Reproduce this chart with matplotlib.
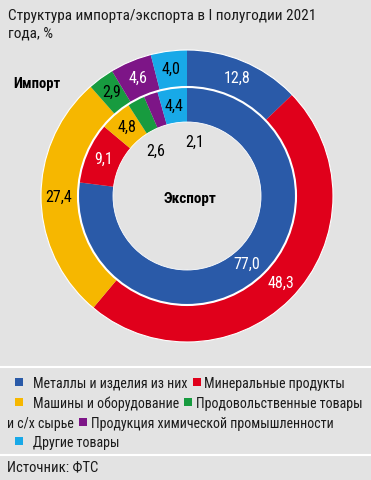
import numpy as np
import matplotlib
matplotlib.use("Agg")
import matplotlib.pyplot as plt
from matplotlib.patches import Circle, Rectangle

plt.rcParams['font.family'] = ['Roboto Condensed', 'DejaVu Sans']
plt.rcParams['font.stretch'] = 'condensed'

# данные
categories = ["Металлы и изделия из них", "Минеральные продукты",
              "Машины и оборудование", "Продовольственные товары и с/х сырье",
              "Продукция химической промышленности", "Другие товары"]
import_share = [12.8, 48.3, 27.4, 2.9, 4.6, 4.0]   # внешнее кольцо
export_share = [77.0, 9.1, 4.8, 2.6, 2.1, 4.4]     # внутреннее кольцо
colors = ["#2a5aa8", "#e0001b", "#f6b700", "#179b3f", "#7d1587", "#18a9e8"]
text_colors = ["white", "white", "black", "black", "white", "black"]

BG = "#e3e3e3"
W, H = 371, 480

fig = plt.figure(figsize=(W / 100, H / 100), dpi=100, facecolor=BG)
ax = fig.add_axes([0, 0, 1, 1])
ax.set_facecolor(BG)

cx, cy = 187, H - 196
R_out, R_mid, R_in = 146, 109, 74

w_out, _ = ax.pie(import_share, colors=colors, radius=R_out, center=(cx, cy),
                  startangle=90, counterclock=False,
                  wedgeprops=dict(width=R_out - R_mid, linewidth=0))
w_in, _ = ax.pie(export_share, colors=colors, radius=R_mid, center=(cx, cy),
                 startangle=90, counterclock=False,
                 wedgeprops=dict(width=R_mid - R_in, linewidth=0))

ax.add_patch(Circle((cx, cy), R_out, fill=False, ec="white", lw=0.8))
ax.add_patch(Circle((cx, cy), R_mid, fill=False, ec="white", lw=1.5))
ax.add_patch(Circle((cx, cy), R_in, fill=False, ec="white", lw=0.6))

ax.set_xlim(0, W)
ax.set_ylim(0, H)
ax.set_aspect('equal')
ax.axis('off')


def fmt(v):
    return f"{v:.1f}".replace('.', ',')


def put_labels(wedges, values, r, hole=None):
    hole = hole or {}
    for i, (wd, v) in enumerate(zip(wedges, values)):
        ang = (wd.theta1 + wd.theta2) / 2
        rr, col = r, text_colors[i]
        if i in hole:
            rr, shift = hole[i]
            ang += shift
            col = "black"
        a = np.deg2rad(ang)
        ax.text(cx + rr * np.cos(a), cy + rr * np.sin(a), fmt(v),
                ha='center', va='center', fontsize=11.5, color=col)


put_labels(w_out, import_share, 128)
put_labels(w_in, export_share, 91, hole={3: (54, 7), 4: (54, -28)})

ax.text(13, H - 88, "Импорт", fontsize=10.5, fontweight='bold', va='baseline')
ax.text(cx + 3, H - 203, "Экспорт", fontsize=11, fontweight='bold',
        va='baseline', ha='center')

# заголовок
ax.text(8, H - 20, "Структура импорта/экспорта в I полугодии 2021",
        fontsize=11, va='baseline', color="#1a1a1a")
ax.text(8, H - 38, "года, %", fontsize=11, va='baseline', color="#1a1a1a")

# разделители
ax.plot([0, W], [H - 367, H - 367], color="white", lw=1.5)
ax.plot([0, W], [H - 455, H - 455], color="white", lw=1.5)

# легенда
renderer = fig.canvas.get_renderer()
legend_rows = [
    (15, 388, [("sq", 0), ("gap", 10), ("tx", "Металлы и изделия из них"), ("gap", 5),
               ("sq", 1), ("gap", 4), ("tx", "Минеральные продукты")]),
    (15, 408, [("sq", 2), ("gap", 10), ("tx", "Машины и оборудование"), ("gap", 5),
               ("sq", 3), ("gap", 4), ("tx", "Продовольственные товары")]),
    (7, 428, [("tx", "и с/х сырье"), ("gap", 5),
              ("sq", 4), ("gap", 4), ("tx", "Продукция химической промышленности")]),
    (15, 447, [("sq", 5), ("gap", 10), ("tx", "Другие товары")]),
]
for x, base, items in legend_rows:
    for kind, val in items:
        if kind == "sq":
            ax.add_patch(Rectangle((x, H - base + 2), 8, 8, color=colors[val], lw=0))
            x += 8
        elif kind == "gap":
            x += val
        else:
            t = ax.text(x, H - base, val, fontsize=10, va='baseline', color="#1a1a1a")
            x += t.get_window_extent(renderer).width

ax.text(7, H - 471, "Источник: ФТС", fontsize=10.5, va='baseline', color="#1a1a1a")

fig.savefig("out.png", dpi=100, facecolor=BG)
